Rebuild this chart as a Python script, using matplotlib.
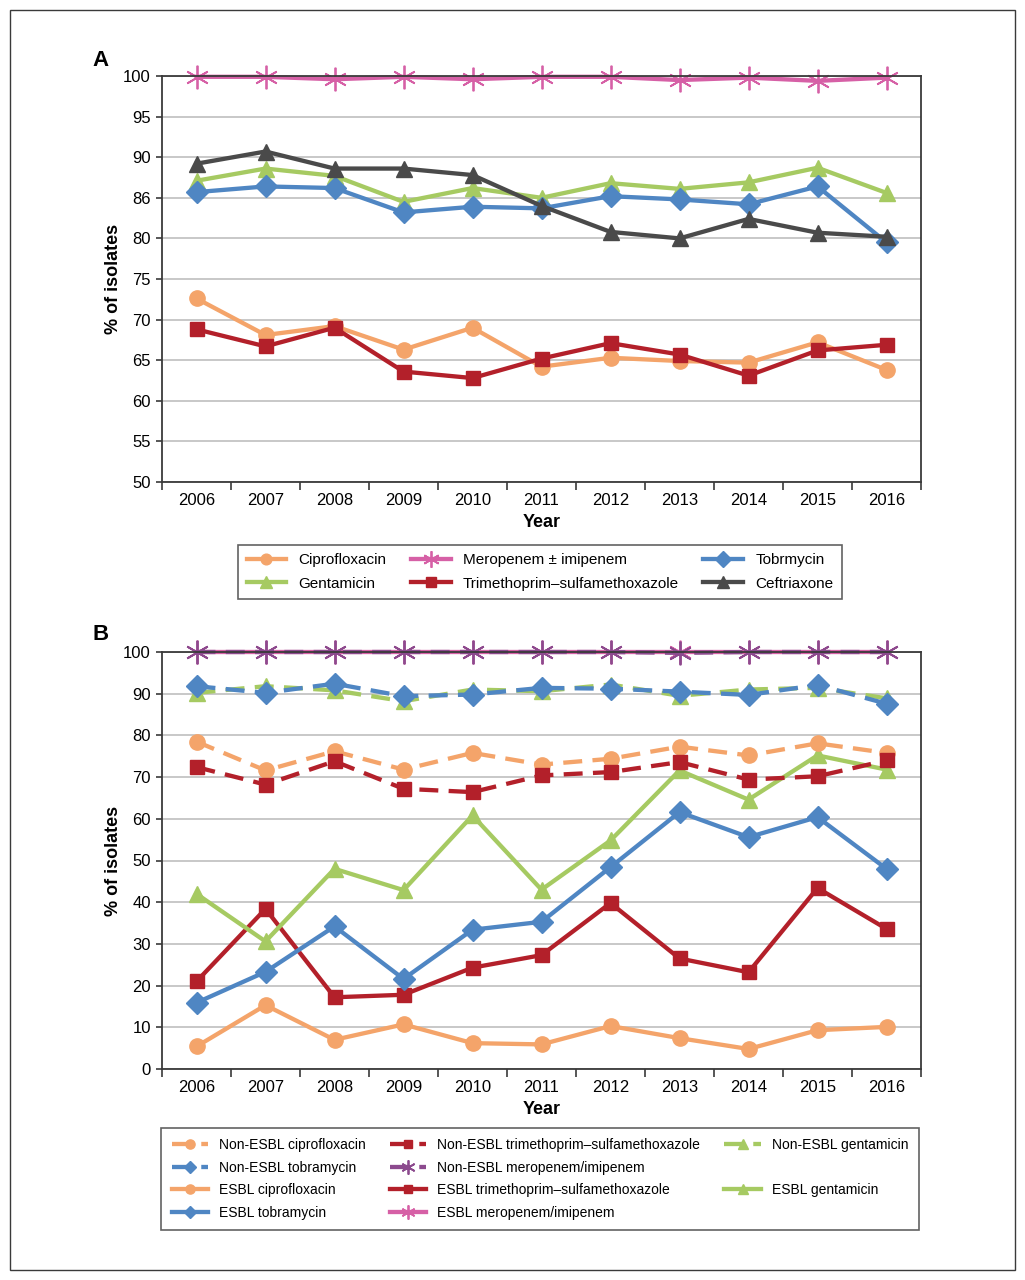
import matplotlib
matplotlib.use("Agg")
import matplotlib.pyplot as plt
from matplotlib.lines import Line2D
from matplotlib.patches import Rectangle

years = list(range(2006, 2017))

# Panel A
a_cipro = [72.6, 68.1, 69.2, 66.3, 69.0, 64.2, 65.3, 64.9, 64.7, 67.2, 63.8]
a_mero = [99.9, 99.9, 99.6, 99.9, 99.6, 99.9, 99.9, 99.5, 99.8, 99.4, 99.8]
a_tobra = [85.7, 86.4, 86.2, 83.2, 83.9, 83.7, 85.2, 84.8, 84.2, 86.4, 79.5]
a_gent = [87.1, 88.6, 87.7, 84.5, 86.2, 85.0, 86.8, 86.1, 86.9, 88.7, 85.6]
a_tmp = [68.8, 66.7, 69.0, 63.6, 62.8, 65.2, 67.1, 65.7, 63.1, 66.2, 66.9]
a_ceft = [89.2, 90.7, 88.6, 88.6, 87.8, 84.0, 80.8, 80.0, 82.4, 80.7, 80.2]
a_yticks = [50, 55, 60, 65, 70, 75, 80, 85, 90, 95, 100]
a_yticklabels = ["50", "55", "60", "65", "70", "75", "80", "86", "90", "95", "100"]

# Panel B
ne_cipro = [78.5, 71.6, 76.2, 71.8, 75.8, 73.0, 74.4, 77.3, 75.2, 78.1, 75.8]
ne_tmp = [72.4, 68.2, 73.8, 67.2, 66.4, 70.4, 71.2, 73.6, 69.4, 70.2, 74.0]
ne_gent = [90.2, 91.8, 90.8, 88.2, 91.0, 90.6, 92.2, 89.5, 91.0, 91.4, 88.9]
ne_tobra = [91.8, 90.2, 92.4, 89.4, 89.8, 91.4, 91.2, 90.5, 89.7, 92.1, 87.6]
ne_mero = [100.0, 100.0, 100.0, 100.0, 100.0, 100.0, 100.0, 99.8, 100.0, 100.0, 100.0]
e_cipro = [5.4, 15.3, 7.0, 10.7, 6.2, 5.9, 10.3, 7.4, 4.8, 9.3, 10.1]
e_tmp = [21.0, 38.4, 17.2, 17.8, 24.3, 27.3, 39.8, 26.5, 23.2, 43.4, 33.6]
e_gent = [42.0, 30.6, 48.0, 42.9, 60.8, 43.0, 54.8, 71.6, 64.6, 75.2, 71.8]
e_tobra = [15.9, 23.3, 34.2, 21.6, 33.4, 35.3, 48.4, 61.6, 55.6, 60.4, 48.0]
e_mero = [100.0] * 11
b_yticks = list(range(0, 101, 10))

ORANGE = "#F4A46A"
PINK = "#D660A6"
PURPLE = "#8C4A8E"
BLUE = "#4F86C3"
GREEN = "#A6CA62"
RED = "#B3202A"
GRAY = "#4A4A4A"
SPINE = "#3A3A3A"
GRID = "#C4C4C4"

SANS = ["Liberation Sans", "DejaVu Sans"]
plt.rcParams["font.family"] = SANS

fig = plt.figure(figsize=(10.25, 12.8), dpi=100)
fig.patches.append(Rectangle((10 / 1025, 10 / 1280), 1005 / 1025, 1260 / 1280,
                             transform=fig.transFigure, fill=False,
                             edgecolor=SPINE, linewidth=1.0))

axA = fig.add_axes([162 / 1025, 1 - 482 / 1280, 759 / 1025, 406 / 1280])
axB = fig.add_axes([162 / 1025, 1 - 1069 / 1280, 759 / 1025, 417 / 1280])

STAR = (6, 2, 0)
LW = 3.1
DASH = (4.4, 2.4)


def style_axes(ax, yticks, ylabels):
    ax.set_xlim(2005.5, 2016.5)
    ax.set_xticks([y - 0.5 for y in years] + [2016.5])
    ax.set_xticklabels([])
    ax.set_xticks(years, minor=True)
    ax.set_xticklabels([str(y) for y in years], minor=True, fontsize=12)
    ax.tick_params(axis="x", which="major", length=6, width=1.2, color=SPINE,
                   direction="out")
    ax.tick_params(axis="x", which="minor", length=0, pad=8)
    ax.set_yticks(yticks)
    ax.set_yticklabels(ylabels, fontsize=12)
    ax.tick_params(axis="y", length=4, width=1.2, color=SPINE, pad=4)
    ax.set_ylim(yticks[0], yticks[-1])
    ax.grid(axis="y", color=GRID, linewidth=1.3)
    ax.set_axisbelow(True)
    for s in ax.spines.values():
        s.set_color(SPINE)
        s.set_linewidth(1.3)
        s.set_zorder(5)
    ax.set_xlabel("Year", fontsize=13, fontweight="bold", labelpad=4)
    ax.set_ylabel("% of isolates", fontsize=13, fontweight="bold",
                  labelpad=1)


# ---- Panel A ----
axA.plot(years, a_cipro, color=ORANGE, lw=LW, marker="o", ms=11,
         label="Ciprofloxacin", clip_on=False)
axA.plot(years, a_gent, color=GREEN, lw=LW, marker="^", ms=12,
         label="Gentamicin", clip_on=False)
axA.plot(years, a_tmp, color=RED, lw=LW, marker="s", ms=10,
         label="Trimethoprim\u2013sulfamethoxazole", clip_on=False)
axA.plot(years, a_tobra, color=BLUE, lw=LW, marker="D", ms=11,
         label="Tobrmycin", clip_on=False)
axA.plot(years, a_ceft, color=GRAY, lw=LW, marker="^", ms=12,
         label="Ceftriaxone", clip_on=False)
axA.plot(years, a_mero, color=PINK, lw=LW, marker=STAR, ms=17, mew=1.3,
         label="Meropenem \u00b1 imipenem", clip_on=False)
style_axes(axA, a_yticks, a_yticklabels)

hA = {l.get_label(): l for l in axA.get_lines()}
orderA = ["Ciprofloxacin", "Gentamicin", "Meropenem \u00b1 imipenem",
          "Trimethoprim\u2013sulfamethoxazole", "Tobrmycin", "Ceftriaxone"]
legA = fig.legend([hA[k] for k in orderA], orderA, ncol=3, loc="center",
                  bbox_to_anchor=(540 / 1025, 1 - 572 / 1280),
                  frameon=True, fancybox=False, edgecolor=SPINE,
                  prop={"size": 11}, handlelength=2.6,
                  columnspacing=1.6, markerscale=0.7, borderpad=0.55,
                  labelspacing=0.6)
legA.get_frame().set_linewidth(1.2)

# ---- Panel B ----
kwd = dict(lw=LW, dashes=DASH, clip_on=False)
kws = dict(lw=LW, clip_on=False)
l_ecip, = axB.plot(years, e_cipro, color=ORANGE, marker="o", ms=11, **kws)
l_etmp, = axB.plot(years, e_tmp, color=RED, marker="s", ms=10, **kws)
l_egen, = axB.plot(years, e_gent, color=GREEN, marker="^", ms=11, **kws)
l_etob, = axB.plot(years, e_tobra, color=BLUE, marker="D", ms=11, **kws)
l_emer, = axB.plot(years, e_mero, color=PINK, marker=STAR, ms=17, mew=1.3,
                   **kws)
l_necip, = axB.plot(years, ne_cipro, color=ORANGE, marker="o", ms=11, **kwd)
l_netmp, = axB.plot(years, ne_tmp, color=RED, marker="s", ms=10, **kwd)
l_negen, = axB.plot(years, ne_gent, color=GREEN, marker="^", ms=11, **kwd)
l_netob, = axB.plot(years, ne_tobra, color=BLUE, marker="D", ms=11, **kwd)
l_nemer, = axB.plot(years, ne_mero, color=PURPLE, marker=STAR, ms=17,
                    mew=1.3, **kwd)
style_axes(axB, b_yticks, [str(v) for v in b_yticks])

blank = Line2D([], [], color="none")
handlesB = [l_necip, l_netob, l_ecip, l_etob,
            l_netmp, l_nemer, l_etmp, l_emer,
            l_negen, blank, l_egen, blank]
labelsB = ["Non-ESBL ciprofloxacin", "Non-ESBL tobramycin",
           "ESBL ciprofloxacin", "ESBL tobramycin",
           "Non-ESBL trimethoprim\u2013sulfamethoxazole",
           "Non-ESBL meropenem/imipenem",
           "ESBL trimethoprim\u2013sulfamethoxazole",
           "ESBL meropenem/imipenem",
           "Non-ESBL gentamicin", "", "ESBL gentamicin", ""]
legB = fig.legend(handlesB, labelsB, ncol=3, loc="center",
                  bbox_to_anchor=(540 / 1025, 1 - 1179 / 1280),
                  frameon=True, fancybox=False, edgecolor=SPINE,
                  prop={"size": 10}, handlelength=2.6,
                  columnspacing=1.75, markerscale=0.6, borderpad=0.75,
                  labelspacing=0.62)
legB.get_frame().set_linewidth(1.2)

fig.text(92 / 1025, 1 - 60 / 1280, "A", fontsize=16, fontweight="bold",
         va="center", ha="left")
fig.text(92 / 1025, 1 - 634 / 1280, "B", fontsize=16, fontweight="bold",
         va="center", ha="left")

fig.savefig("out.png", dpi=100)
